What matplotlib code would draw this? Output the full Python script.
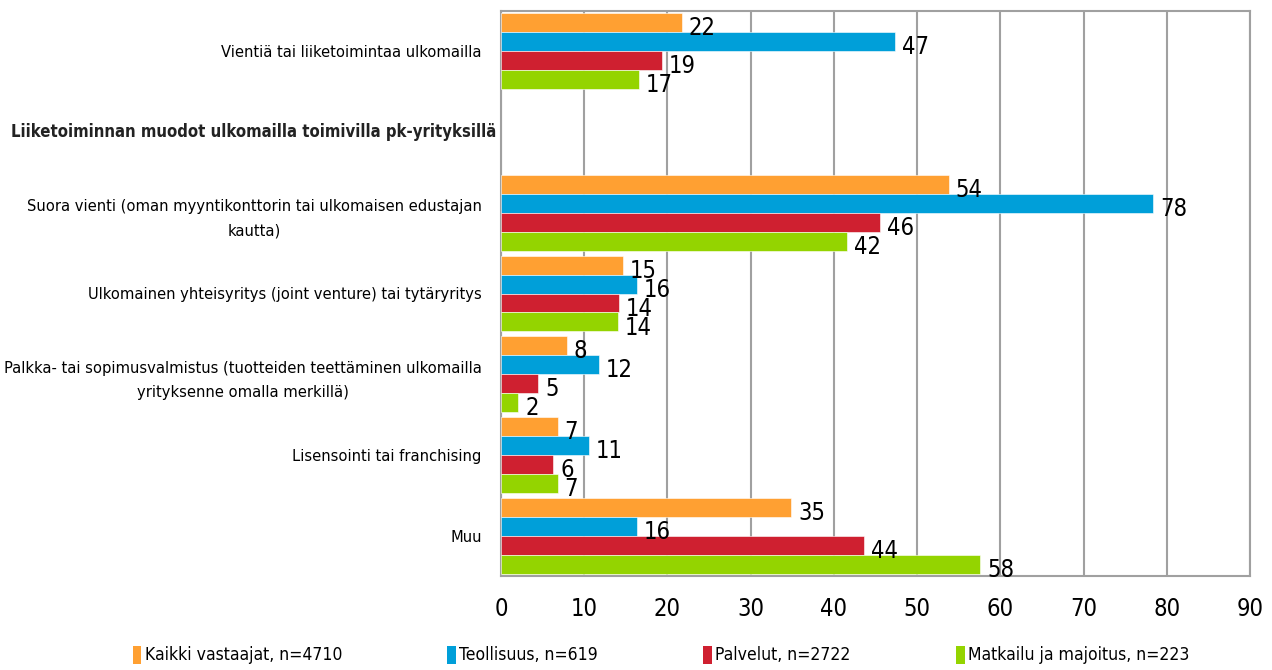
import matplotlib
matplotlib.use('Agg')
import matplotlib.pyplot as plt
import matplotlib.transforms as mtransforms
from matplotlib import font_manager as fm
from matplotlib.patches import Patch
import numpy as np

# rows from top to bottom; the second row is a section header without bars
categories = [
    'Vientiä tai liiketoimintaa ulkomailla',
    'Liiketoiminnan muodot ulkomailla toimivilla pk-yrityksillä',
    'Suora vienti (oman myyntikonttorin tai ulkomaisen edustajan\nkautta)',
    'Ulkomainen yhteisyritys (joint venture) tai tytäryritys',
    'Palkka- tai sopimusvalmistus (tuotteiden teettäminen ulkomailla\nyrityksenne omalla merkillä)',
    'Lisensointi tai franchising',
    'Muu',
]
header_row = 1

series_names = ['Kaikki vastaajat, n=4710', 'Teollisuus, n=619',
                'Palvelut, n=2722', 'Matkailu ja majoitus, n=223']
kaikki = [21.7, np.nan, 53.8, 14.6, 7.9, 6.8, 34.9]
teollisuus = [47.3, np.nan, 78.4, 16.3, 11.8, 10.6, 16.3]
palvelut = [19.3, np.nan, 45.6, 14.2, 4.5, 6.3, 43.6]
matkailu = [16.6, np.nan, 41.6, 14.0, 2.1, 6.8, 57.6]
colors = ['#FFA032', '#009FD9', '#CF2030', '#94D400']

# pick a narrow face if one is there
names = {f.name for f in fm.fontManager.ttflist}
dv_cond = any(f.name == 'DejaVu Sans' and f.stretch == 'condensed'
              for f in fm.fontManager.ttflist)
if 'Liberation Sans Narrow' in names:
    FONT, STRETCH = ['Liberation Sans Narrow', 'DejaVu Sans'], 'normal'
elif dv_cond:
    FONT, STRETCH = ['DejaVu Sans'], 'condensed'
else:
    FONT, STRETCH = ['Liberation Sans', 'DejaVu Sans'], 'normal'
plt.rcParams['font.family'] = FONT
plt.rcParams['font.stretch'] = STRETCH

fig = plt.figure(figsize=(12.72, 6.7), dpi=100)
ax = fig.add_axes([501 / 1272, 1 - 576 / 670, 749 / 1272, 565 / 670])

y = np.arange(len(categories))
h = 0.235
all_series = [kaikki, teollisuus, palvelut, matkailu]
for i, (vals, col) in enumerate(zip(all_series, colors)):
    pos = y + (i - 1.5) * h
    bars = ax.barh(pos, vals, height=h, color=col, edgecolor='white',
                   linewidth=0.4, zorder=3)
    for bar, v in zip(bars, vals):
        if np.isnan(v):
            continue
        ax.annotate(f'{int(v + 0.5)}',
                    xy=(bar.get_width(), bar.get_y() + bar.get_height() / 2),
                    xytext=(5, -4), textcoords='offset points',
                    ha='left', va='center', fontsize=17, zorder=4)

ax.set_xlim(0, 90)
ax.set_ylim(len(categories) - 0.5, -0.5)
ax.set_xticks(np.arange(0, 91, 10))
ax.tick_params(axis='x', length=0, pad=15, labelsize=17)
ax.grid(axis='x', color='#A0A0A0', linewidth=1.5, zorder=0)

ax.set_yticks(y)
ax.set_yticklabels([c if i != header_row else '' for i, c in enumerate(categories)],
                   fontsize=11.8, multialignment='center', linespacing=1.75)
ax.tick_params(axis='y', length=0, pad=14)
for sp in ax.spines.values():
    sp.set_color('#A0A0A0')
    sp.set_linewidth(1.5)

trans = mtransforms.blended_transform_factory(ax.transAxes, ax.transData)
ax.text(-0.007, header_row, categories[header_row], transform=trans,
        ha='right', va='center', fontsize=12, fontweight='bold', color='#222222')

handles = [Patch(facecolor=c, edgecolor='none') for c in colors]
fig.legend(handles, series_names, loc='center', bbox_to_anchor=(661 / 1272, 1 - 655 / 670),
           ncol=4, frameon=False, fontsize=12.6, handlelength=0.5, handleheight=1.2,
           handletextpad=0.2, columnspacing=6.0)

plt.savefig('out.png', dpi=100)
plt.close()
